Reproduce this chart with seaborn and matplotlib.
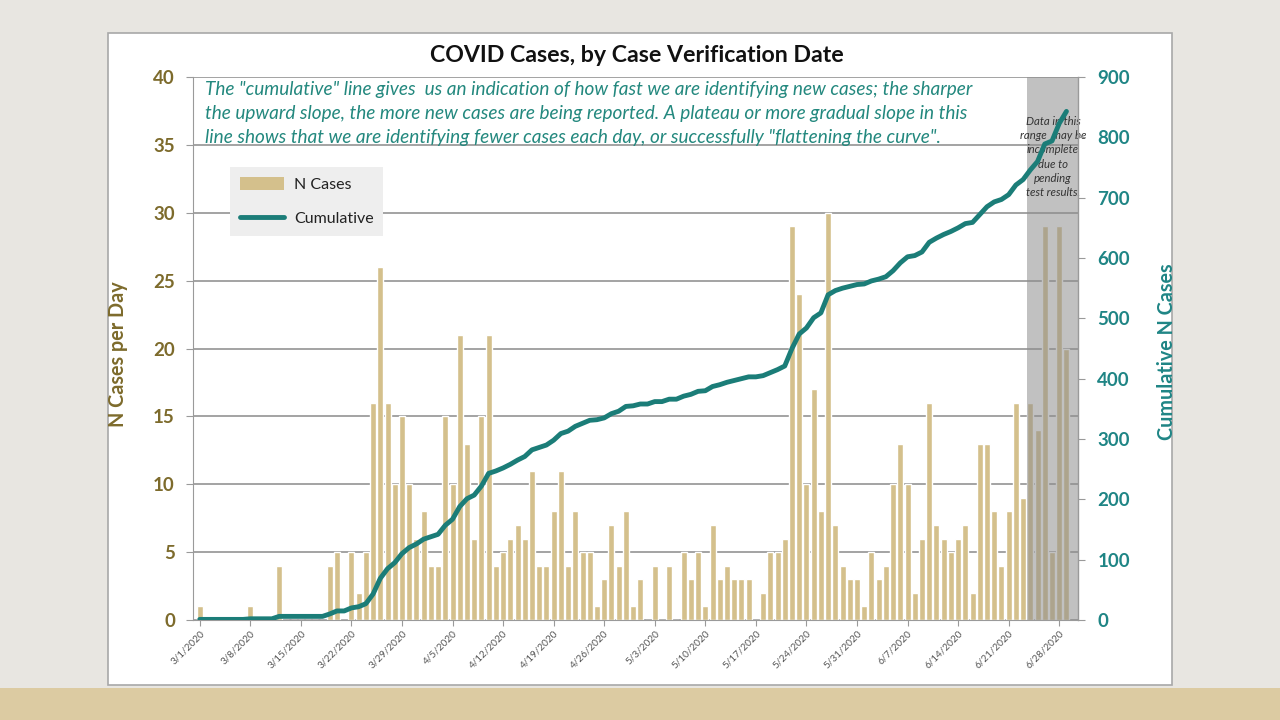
import numpy as np
import pandas as pd
import matplotlib
matplotlib.use("Agg")
import matplotlib.pyplot as plt
import seaborn as sns
from matplotlib.patches import Rectangle, Patch
from matplotlib.lines import Line2D

# ---------------- data ----------------
start_date = "2020-03-01"
cases = [1, 0, 0, 0, 0, 0, 0, 1, 0, 0,
         0, 4, 0, 0, 0, 0, 0, 0, 4, 5,
         0, 5, 2, 5, 16, 26, 16, 10, 15, 10,
         6, 8, 4, 4, 15, 10, 21, 13, 6, 15,
         21, 4, 5, 6, 7, 6, 11, 4, 4, 8,
         11, 4, 8, 5, 5, 1, 3, 7, 4, 8,
         1, 3, 0, 4, 0, 4, 0, 5, 3, 5,
         1, 7, 3, 4, 3, 3, 3, 0, 2, 5,
         5, 6, 29, 24, 10, 17, 8, 30, 7, 4,
         3, 3, 1, 5, 3, 4, 10, 13, 10, 2,
         6, 16, 7, 6, 5, 6, 7, 2, 13, 13,
         8, 4, 8, 16, 9, 16, 14, 29, 5, 29,
         20]
cumulative = [1, 1, 1, 1, 1, 1, 1, 2, 2, 2,
              2, 6, 6, 6, 6, 6, 6, 6, 10, 15,
              15, 20, 22, 27, 43, 69, 85, 95, 110, 120,
              126, 134, 138, 142, 157, 167, 188, 201, 207, 222,
              243, 247, 252, 258, 265, 271, 282, 286, 290, 298,
              309, 313, 321, 326, 331, 332, 335, 342, 346, 354,
              355, 358, 358, 362, 362, 366, 366, 371, 374, 379,
              380, 387, 390, 394, 397, 400, 403, 403, 405, 410,
              415, 421, 450, 474, 484, 501, 509, 539, 546, 550,
              553, 556, 557, 562, 565, 569, 579, 592, 602, 604,
              610, 626, 633, 639, 644, 650, 657, 659, 672, 685,
              693, 697, 705, 721, 730, 746, 760, 789, 794, 823,
              843]
tick_labels = ["3/1/2020", "3/8/2020", "3/15/2020", "3/22/2020", "3/29/2020",
               "4/5/2020", "4/12/2020", "4/19/2020", "4/26/2020", "5/3/2020",
               "5/10/2020", "5/17/2020", "5/24/2020", "5/31/2020", "6/7/2020",
               "6/14/2020", "6/21/2020", "6/28/2020"]
incomplete_from = "6/24/2020"   # start of the shaded 'incomplete' range
left_ticks = [0, 5, 10, 15, 20, 25, 30, 35, 40]
right_ticks = [0, 100, 200, 300, 400, 500, 600, 700, 800, 900]

title = "COVID Cases, by Case Verification Date"
note_lines = [
    'The "cumulative" line gives  us an indication of how fast we are identifying new cases; the sharper',
    'the upward slope, the more new cases are being reported. A plateau or more gradual slope in this',
    'line shows that we are identifying fewer cases each day, or successfully "flattening the curve".',
]
shade_note = "Data in this\nrange  may be\nincomplete\ndue to\npending\ntest results."

# ---------------- styling ----------------
sns.set_style("white")
plt.rcParams["font.family"] = ["Lato", "DejaVu Sans"]

bar_color = "#d4c08c"
line_color = "#1b7d78"
olive = "#7d6b2c"
teal = "#1f8585"
grid_color = "#9c9c9c"

dates = pd.date_range(start_date, periods=len(cases))
date_labels = [f"{d.month}/{d.day}/{d.year}" for d in dates]
df = pd.DataFrame({"pos": np.arange(len(cases)), "cases": cases,
                   "cum": cumulative, "label": date_labels})

fig = plt.figure(figsize=(12.8, 7.2), dpi=100)
fig.patch.set_facecolor("#e8e6e1")
fig.patches.append(Rectangle((0, 0), 1, 32 / 720, transform=fig.transFigure,
                             facecolor="#dccba2", edgecolor="none", zorder=-2))
fig.patches.append(Rectangle((108 / 1280, 1 - 685 / 720), 1064 / 1280, 652 / 720,
                             transform=fig.transFigure, facecolor="white",
                             edgecolor="#a8a8a8", lw=1.2, zorder=-1))

ax = fig.add_axes([193 / 1280, 1 - 620 / 720, 885 / 1280, 543 / 720])
ax.set_facecolor("none")
ax2 = ax.twinx()

sns.barplot(data=df, x="pos", y="cases", native_scale=True, color=bar_color,
            saturation=1, width=0.83, errorbar=None, ax=ax, zorder=2)
sns.lineplot(data=df, x="pos", y="cum", color=line_color, lw=3.5, ax=ax2,
             solid_capstyle="round")

xmin, xmax = -0.93, 121.6
ax.set_xlim(xmin, xmax)
ax2.set_xlim(xmin, xmax)
ax.set_ylim(0, 40)
ax2.set_ylim(0, 900)

# shaded incomplete range
shade_start = date_labels.index(incomplete_from) - 0.45
ax.axvspan(shade_start, xmax, color="#8e8e8e", alpha=0.55, lw=0, zorder=3)
ax.text(1053 / 1280, 1 - 157 / 720, shade_note, transform=fig.transFigure,
        ha="center", va="center", fontsize=8.2, style="italic", color="#333333",
        linespacing=1.36, zorder=4)

# grid & spines
ax.set_axisbelow(True)
ax.yaxis.grid(True, color=grid_color, lw=1.3)
ax.xaxis.grid(False)
for s in ["top", "right"]:
    ax.spines[s].set_visible(False)
for s in ["top", "left", "bottom"]:
    ax2.spines[s].set_visible(False)
ax.spines["left"].set_color("#9a9a9a")
ax.spines["bottom"].set_color("#9a9a9a")
ax2.spines["right"].set_color("#9a9a9a")
ax2.spines["right"].set_linewidth(1.0)

# ticks
tick_pos = [date_labels.index(t) for t in tick_labels]
ax.set_xticks(tick_pos)
ax.set_xticklabels(tick_labels, rotation=45, ha="right", rotation_mode="anchor",
                   fontsize=7.2, color="#555555")
ax.tick_params(axis="x", length=4, color="#9a9a9a", pad=2, bottom=True)
ax.set_yticks(left_ticks)
ax.set_yticklabels([str(v) for v in left_ticks], fontsize=13.5, fontweight="bold",
                   color=olive)
ax.tick_params(axis="y", length=5, color="#9a9a9a", pad=8, left=True)
ax2.set_yticks(right_ticks)
ax2.set_yticklabels([str(v) for v in right_ticks], fontsize=13.5, fontweight="bold",
                    color=teal)
ax2.tick_params(axis="y", length=5, color="#9a9a9a", pad=9, right=True)

ax.set_xlabel("")
ax.set_ylabel("N Cases per Day", fontsize=14.2, fontweight="bold", color=olive)
ax.yaxis.set_label_coords(-0.073, 0.49)
ax2.set_ylabel("Cumulative N Cases", fontsize=14.2, fontweight="bold", color=teal)
ax2.yaxis.set_label_coords(1.089, 0.495)

# title and notes
fig.text(637 / 1280, 1 - 55 / 720, title, ha="center", va="center",
         fontsize=16.7, fontweight="bold", color="#111111")
for i, line in enumerate(note_lines):
    fig.text(205 / 1280, 1 - (90 + 24 * i) / 720, line, ha="left", va="center",
             fontsize=13.7, style="italic", color="#23887e")

# legend
handles = [Patch(facecolor=bar_color, edgecolor="none"),
           Line2D([0], [0], color=line_color, lw=3.5)]
leg = ax.legend(handles, ["N Cases", "Cumulative"], loc="upper left",
                bbox_to_anchor=(230 / 1280, 1 - 167 / 720),
                bbox_transform=fig.transFigure, frameon=True, fancybox=False,
                facecolor="#eeeeee", edgecolor="none", framealpha=1,
                fontsize=11.5, handlelength=2.8, handleheight=0.9,
                labelspacing=1.2, borderpad=0.6, handletextpad=0.6,
                borderaxespad=0)
for t in leg.get_texts():
    t.set_color("#222222")
leg.set_zorder(6)

fig.savefig("out.png", dpi=100, facecolor=fig.get_facecolor())
